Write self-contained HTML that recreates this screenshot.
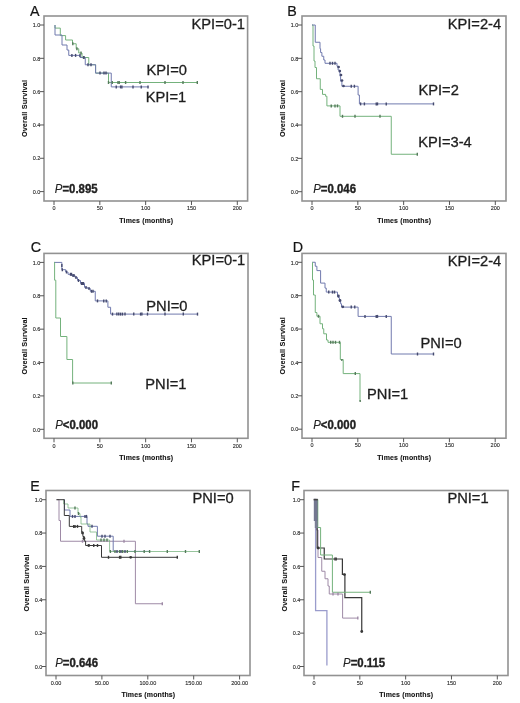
<!DOCTYPE html>
<html><head><meta charset="utf-8"><style>
html,body{margin:0;padding:0;background:#fff;width:520px;height:703px;overflow:hidden}
svg{display:block;filter:blur(0.4px)}
text{font-family:"Liberation Sans", sans-serif}
.tk{font-size:5.5px;fill:#2a2a2a;stroke:#2a2a2a;stroke-width:0.12px}
.at{font-size:7px;font-weight:bold;fill:#111;letter-spacing:0.14px;stroke:#111;stroke-width:0.1px}
.pl{font-size:14.3px;fill:#151515;stroke:#151515;stroke-width:0.2px}
.hd{font-size:14.7px;fill:#1e1e1e;stroke:#1e1e1e;stroke-width:0.3px}
.pv{font-size:11.4px;font-weight:bold;fill:#222;stroke:#222;stroke-width:0.35px}
.pi{font-style:italic;font-weight:normal;stroke-width:0.1px}
</style></head><body>
<svg width="520" height="703" viewBox="0 0 520 703">
<rect width="520" height="703" fill="#fff"/>
<rect x="44" y="16" width="203.6" height="185" fill="none" stroke="#929292" stroke-width="1.6"/>
<line x1="40" y1="191.6" x2="44" y2="191.6" stroke="#555" stroke-width="1"/>
<text transform="translate(40.4,193.8) scale(1,1.12)" class="tk" text-anchor="end">0.0</text>
<line x1="40" y1="158.28" x2="44" y2="158.28" stroke="#555" stroke-width="1"/>
<text transform="translate(40.4,160.48) scale(1,1.12)" class="tk" text-anchor="end">0.2</text>
<line x1="40" y1="124.96" x2="44" y2="124.96" stroke="#555" stroke-width="1"/>
<text transform="translate(40.4,127.16) scale(1,1.12)" class="tk" text-anchor="end">0.4</text>
<line x1="40" y1="91.64" x2="44" y2="91.64" stroke="#555" stroke-width="1"/>
<text transform="translate(40.4,93.84) scale(1,1.12)" class="tk" text-anchor="end">0.6</text>
<line x1="40" y1="58.32" x2="44" y2="58.32" stroke="#555" stroke-width="1"/>
<text transform="translate(40.4,60.52) scale(1,1.12)" class="tk" text-anchor="end">0.8</text>
<line x1="40" y1="25" x2="44" y2="25" stroke="#555" stroke-width="1"/>
<text transform="translate(40.4,27.2) scale(1,1.12)" class="tk" text-anchor="end">1.0</text>
<line x1="54" y1="201" x2="54" y2="205" stroke="#555" stroke-width="1"/>
<text transform="translate(54,210.2) scale(1,1.12)" class="tk" text-anchor="middle">0</text>
<line x1="99.83" y1="201" x2="99.83" y2="205" stroke="#555" stroke-width="1"/>
<text transform="translate(99.83,210.2) scale(1,1.12)" class="tk" text-anchor="middle">50</text>
<line x1="145.65" y1="201" x2="145.65" y2="205" stroke="#555" stroke-width="1"/>
<text transform="translate(145.65,210.2) scale(1,1.12)" class="tk" text-anchor="middle">100</text>
<line x1="191.47" y1="201" x2="191.47" y2="205" stroke="#555" stroke-width="1"/>
<text transform="translate(191.47,210.2) scale(1,1.12)" class="tk" text-anchor="middle">150</text>
<line x1="237.3" y1="201" x2="237.3" y2="205" stroke="#555" stroke-width="1"/>
<text transform="translate(237.3,210.2) scale(1,1.12)" class="tk" text-anchor="middle">200</text>
<text transform="translate(146.25,222.8) scale(1,1.04)" class="at" text-anchor="middle">Times (months)</text>
<text transform="translate(27.1,108.5) scale(1,1.04) rotate(-90)" class="at" text-anchor="middle">Overall Survival</text>
<rect x="302" y="16" width="204" height="185" fill="none" stroke="#929292" stroke-width="1.6"/>
<line x1="298" y1="191.7" x2="302" y2="191.7" stroke="#555" stroke-width="1"/>
<text transform="translate(298.4,193.9) scale(1,1.12)" class="tk" text-anchor="end">0.0</text>
<line x1="298" y1="158.36" x2="302" y2="158.36" stroke="#555" stroke-width="1"/>
<text transform="translate(298.4,160.56) scale(1,1.12)" class="tk" text-anchor="end">0.2</text>
<line x1="298" y1="125.02" x2="302" y2="125.02" stroke="#555" stroke-width="1"/>
<text transform="translate(298.4,127.22) scale(1,1.12)" class="tk" text-anchor="end">0.4</text>
<line x1="298" y1="91.68" x2="302" y2="91.68" stroke="#555" stroke-width="1"/>
<text transform="translate(298.4,93.88) scale(1,1.12)" class="tk" text-anchor="end">0.6</text>
<line x1="298" y1="58.34" x2="302" y2="58.34" stroke="#555" stroke-width="1"/>
<text transform="translate(298.4,60.54) scale(1,1.12)" class="tk" text-anchor="end">0.8</text>
<line x1="298" y1="25" x2="302" y2="25" stroke="#555" stroke-width="1"/>
<text transform="translate(298.4,27.2) scale(1,1.12)" class="tk" text-anchor="end">1.0</text>
<line x1="312" y1="201" x2="312" y2="205" stroke="#555" stroke-width="1"/>
<text transform="translate(312,210.2) scale(1,1.12)" class="tk" text-anchor="middle">0</text>
<line x1="357.82" y1="201" x2="357.82" y2="205" stroke="#555" stroke-width="1"/>
<text transform="translate(357.82,210.2) scale(1,1.12)" class="tk" text-anchor="middle">50</text>
<line x1="403.65" y1="201" x2="403.65" y2="205" stroke="#555" stroke-width="1"/>
<text transform="translate(403.65,210.2) scale(1,1.12)" class="tk" text-anchor="middle">100</text>
<line x1="449.48" y1="201" x2="449.48" y2="205" stroke="#555" stroke-width="1"/>
<text transform="translate(449.48,210.2) scale(1,1.12)" class="tk" text-anchor="middle">150</text>
<line x1="495.3" y1="201" x2="495.3" y2="205" stroke="#555" stroke-width="1"/>
<text transform="translate(495.3,210.2) scale(1,1.12)" class="tk" text-anchor="middle">200</text>
<text transform="translate(404.25,222.8) scale(1,1.04)" class="at" text-anchor="middle">Times (months)</text>
<text transform="translate(285.1,108.5) scale(1,1.04) rotate(-90)" class="at" text-anchor="middle">Overall Survival</text>
<rect x="44" y="253.4" width="204" height="184.9" fill="none" stroke="#929292" stroke-width="1.6"/>
<line x1="40" y1="429.3" x2="44" y2="429.3" stroke="#555" stroke-width="1"/>
<text transform="translate(40.4,431.5) scale(1,1.12)" class="tk" text-anchor="end">0.0</text>
<line x1="40" y1="395.92" x2="44" y2="395.92" stroke="#555" stroke-width="1"/>
<text transform="translate(40.4,398.12) scale(1,1.12)" class="tk" text-anchor="end">0.2</text>
<line x1="40" y1="362.54" x2="44" y2="362.54" stroke="#555" stroke-width="1"/>
<text transform="translate(40.4,364.74) scale(1,1.12)" class="tk" text-anchor="end">0.4</text>
<line x1="40" y1="329.16" x2="44" y2="329.16" stroke="#555" stroke-width="1"/>
<text transform="translate(40.4,331.36) scale(1,1.12)" class="tk" text-anchor="end">0.6</text>
<line x1="40" y1="295.78" x2="44" y2="295.78" stroke="#555" stroke-width="1"/>
<text transform="translate(40.4,297.98) scale(1,1.12)" class="tk" text-anchor="end">0.8</text>
<line x1="40" y1="262.4" x2="44" y2="262.4" stroke="#555" stroke-width="1"/>
<text transform="translate(40.4,264.6) scale(1,1.12)" class="tk" text-anchor="end">1.0</text>
<line x1="54" y1="438.3" x2="54" y2="442.3" stroke="#555" stroke-width="1"/>
<text transform="translate(54,447.5) scale(1,1.12)" class="tk" text-anchor="middle">0</text>
<line x1="99.83" y1="438.3" x2="99.83" y2="442.3" stroke="#555" stroke-width="1"/>
<text transform="translate(99.83,447.5) scale(1,1.12)" class="tk" text-anchor="middle">50</text>
<line x1="145.65" y1="438.3" x2="145.65" y2="442.3" stroke="#555" stroke-width="1"/>
<text transform="translate(145.65,447.5) scale(1,1.12)" class="tk" text-anchor="middle">100</text>
<line x1="191.47" y1="438.3" x2="191.47" y2="442.3" stroke="#555" stroke-width="1"/>
<text transform="translate(191.47,447.5) scale(1,1.12)" class="tk" text-anchor="middle">150</text>
<line x1="237.3" y1="438.3" x2="237.3" y2="442.3" stroke="#555" stroke-width="1"/>
<text transform="translate(237.3,447.5) scale(1,1.12)" class="tk" text-anchor="middle">200</text>
<text transform="translate(146.25,460.1) scale(1,1.04)" class="at" text-anchor="middle">Times (months)</text>
<text transform="translate(27.1,345.85) scale(1,1.04) rotate(-90)" class="at" text-anchor="middle">Overall Survival</text>
<rect x="302" y="253.4" width="204" height="184.8" fill="none" stroke="#929292" stroke-width="1.6"/>
<line x1="298" y1="429.2" x2="302" y2="429.2" stroke="#555" stroke-width="1"/>
<text transform="translate(298.4,431.4) scale(1,1.12)" class="tk" text-anchor="end">0.0</text>
<line x1="298" y1="395.82" x2="302" y2="395.82" stroke="#555" stroke-width="1"/>
<text transform="translate(298.4,398.02) scale(1,1.12)" class="tk" text-anchor="end">0.2</text>
<line x1="298" y1="362.44" x2="302" y2="362.44" stroke="#555" stroke-width="1"/>
<text transform="translate(298.4,364.64) scale(1,1.12)" class="tk" text-anchor="end">0.4</text>
<line x1="298" y1="329.06" x2="302" y2="329.06" stroke="#555" stroke-width="1"/>
<text transform="translate(298.4,331.26) scale(1,1.12)" class="tk" text-anchor="end">0.6</text>
<line x1="298" y1="295.68" x2="302" y2="295.68" stroke="#555" stroke-width="1"/>
<text transform="translate(298.4,297.88) scale(1,1.12)" class="tk" text-anchor="end">0.8</text>
<line x1="298" y1="262.3" x2="302" y2="262.3" stroke="#555" stroke-width="1"/>
<text transform="translate(298.4,264.5) scale(1,1.12)" class="tk" text-anchor="end">1.0</text>
<line x1="312" y1="438.2" x2="312" y2="442.2" stroke="#555" stroke-width="1"/>
<text transform="translate(312,447.4) scale(1,1.12)" class="tk" text-anchor="middle">0</text>
<line x1="357.8" y1="438.2" x2="357.8" y2="442.2" stroke="#555" stroke-width="1"/>
<text transform="translate(357.8,447.4) scale(1,1.12)" class="tk" text-anchor="middle">50</text>
<line x1="403.6" y1="438.2" x2="403.6" y2="442.2" stroke="#555" stroke-width="1"/>
<text transform="translate(403.6,447.4) scale(1,1.12)" class="tk" text-anchor="middle">100</text>
<line x1="449.4" y1="438.2" x2="449.4" y2="442.2" stroke="#555" stroke-width="1"/>
<text transform="translate(449.4,447.4) scale(1,1.12)" class="tk" text-anchor="middle">150</text>
<line x1="495.2" y1="438.2" x2="495.2" y2="442.2" stroke="#555" stroke-width="1"/>
<text transform="translate(495.2,447.4) scale(1,1.12)" class="tk" text-anchor="middle">200</text>
<text transform="translate(404.2,460) scale(1,1.04)" class="at" text-anchor="middle">Times (months)</text>
<text transform="translate(285.1,345.8) scale(1,1.04) rotate(-90)" class="at" text-anchor="middle">Overall Survival</text>
<rect x="46" y="490.5" width="204" height="185" fill="none" stroke="#929292" stroke-width="1.6"/>
<line x1="42" y1="666.5" x2="46" y2="666.5" stroke="#555" stroke-width="1"/>
<text transform="translate(42.4,668.7) scale(1,1.12)" class="tk" text-anchor="end">0.0</text>
<line x1="42" y1="633.14" x2="46" y2="633.14" stroke="#555" stroke-width="1"/>
<text transform="translate(42.4,635.34) scale(1,1.12)" class="tk" text-anchor="end">0.2</text>
<line x1="42" y1="599.78" x2="46" y2="599.78" stroke="#555" stroke-width="1"/>
<text transform="translate(42.4,601.98) scale(1,1.12)" class="tk" text-anchor="end">0.4</text>
<line x1="42" y1="566.42" x2="46" y2="566.42" stroke="#555" stroke-width="1"/>
<text transform="translate(42.4,568.62) scale(1,1.12)" class="tk" text-anchor="end">0.6</text>
<line x1="42" y1="533.06" x2="46" y2="533.06" stroke="#555" stroke-width="1"/>
<text transform="translate(42.4,535.26) scale(1,1.12)" class="tk" text-anchor="end">0.8</text>
<line x1="42" y1="499.7" x2="46" y2="499.7" stroke="#555" stroke-width="1"/>
<text transform="translate(42.4,501.9) scale(1,1.12)" class="tk" text-anchor="end">1.0</text>
<line x1="56" y1="675.5" x2="56" y2="679.5" stroke="#555" stroke-width="1"/>
<text transform="translate(56,684.7) scale(1,1.12)" class="tk" text-anchor="middle">0.00</text>
<line x1="101.9" y1="675.5" x2="101.9" y2="679.5" stroke="#555" stroke-width="1"/>
<text transform="translate(101.9,684.7) scale(1,1.12)" class="tk" text-anchor="middle">50.00</text>
<line x1="147.8" y1="675.5" x2="147.8" y2="679.5" stroke="#555" stroke-width="1"/>
<text transform="translate(147.8,684.7) scale(1,1.12)" class="tk" text-anchor="middle">100.00</text>
<line x1="193.7" y1="675.5" x2="193.7" y2="679.5" stroke="#555" stroke-width="1"/>
<text transform="translate(193.7,684.7) scale(1,1.12)" class="tk" text-anchor="middle">150.00</text>
<line x1="239.6" y1="675.5" x2="239.6" y2="679.5" stroke="#555" stroke-width="1"/>
<text transform="translate(239.6,684.7) scale(1,1.12)" class="tk" text-anchor="middle">200.00</text>
<text transform="translate(148.4,697.3) scale(1,1.04)" class="at" text-anchor="middle">Times (months)</text>
<text transform="translate(29.1,583) scale(1,1.04) rotate(-90)" class="at" text-anchor="middle">Overall Survival</text>
<rect x="304" y="490.5" width="204" height="185" fill="none" stroke="#929292" stroke-width="1.6"/>
<line x1="300" y1="666.5" x2="304" y2="666.5" stroke="#555" stroke-width="1"/>
<text transform="translate(300.4,668.7) scale(1,1.12)" class="tk" text-anchor="end">0.0</text>
<line x1="300" y1="633.14" x2="304" y2="633.14" stroke="#555" stroke-width="1"/>
<text transform="translate(300.4,635.34) scale(1,1.12)" class="tk" text-anchor="end">0.2</text>
<line x1="300" y1="599.78" x2="304" y2="599.78" stroke="#555" stroke-width="1"/>
<text transform="translate(300.4,601.98) scale(1,1.12)" class="tk" text-anchor="end">0.4</text>
<line x1="300" y1="566.42" x2="304" y2="566.42" stroke="#555" stroke-width="1"/>
<text transform="translate(300.4,568.62) scale(1,1.12)" class="tk" text-anchor="end">0.6</text>
<line x1="300" y1="533.06" x2="304" y2="533.06" stroke="#555" stroke-width="1"/>
<text transform="translate(300.4,535.26) scale(1,1.12)" class="tk" text-anchor="end">0.8</text>
<line x1="300" y1="499.7" x2="304" y2="499.7" stroke="#555" stroke-width="1"/>
<text transform="translate(300.4,501.9) scale(1,1.12)" class="tk" text-anchor="end">1.0</text>
<line x1="314" y1="675.5" x2="314" y2="679.5" stroke="#555" stroke-width="1"/>
<text transform="translate(314,684.7) scale(1,1.12)" class="tk" text-anchor="middle">0</text>
<line x1="359.82" y1="675.5" x2="359.82" y2="679.5" stroke="#555" stroke-width="1"/>
<text transform="translate(359.82,684.7) scale(1,1.12)" class="tk" text-anchor="middle">50</text>
<line x1="405.65" y1="675.5" x2="405.65" y2="679.5" stroke="#555" stroke-width="1"/>
<text transform="translate(405.65,684.7) scale(1,1.12)" class="tk" text-anchor="middle">100</text>
<line x1="451.48" y1="675.5" x2="451.48" y2="679.5" stroke="#555" stroke-width="1"/>
<text transform="translate(451.48,684.7) scale(1,1.12)" class="tk" text-anchor="middle">150</text>
<line x1="497.3" y1="675.5" x2="497.3" y2="679.5" stroke="#555" stroke-width="1"/>
<text transform="translate(497.3,684.7) scale(1,1.12)" class="tk" text-anchor="middle">200</text>
<text transform="translate(406.25,697.3) scale(1,1.04)" class="at" text-anchor="middle">Times (months)</text>
<text transform="translate(287.1,583) scale(1,1.04) rotate(-90)" class="at" text-anchor="middle">Overall Survival</text>
<polyline points="55,25 55,28.1 60.3,28.1 60.3,35.6 65.6,35.6 65.6,40 72.5,40 72.5,43.75 76.2,43.75 76.2,48.75 78.75,48.75 78.75,53 82,53 82,57.5 88.75,57.5 88.75,64.75 95.6,64.75 95.6,73.1 108.5,73.1 108.5,82.5 197.7,82.5" fill="none" stroke="#74b27c" stroke-width="1.0"/>
<polyline points="55,25 55,35 62,35 62,45 67,45 67,50 68.75,50 68.75,55.4 80,55.4 80,57.5 85.25,57.5 85.25,64.75 95.6,64.75 95.6,73.1 111.25,73.1 111.25,86.9 148.5,86.9" fill="none" stroke="#717aae" stroke-width="1.0"/>
<line x1="72.8" y1="42.25" x2="72.8" y2="45.25" stroke="#557a5b" stroke-width="1.4"/>
<line x1="76.9" y1="47.25" x2="76.9" y2="50.25" stroke="#557a5b" stroke-width="1.4"/>
<line x1="81" y1="51.5" x2="81" y2="54.5" stroke="#557a5b" stroke-width="1.4"/>
<line x1="83.5" y1="56" x2="83.5" y2="59" stroke="#557a5b" stroke-width="1.4"/>
<line x1="108.5" y1="81" x2="108.5" y2="84" stroke="#557a5b" stroke-width="1.4"/>
<line x1="112.25" y1="81" x2="112.25" y2="84" stroke="#557a5b" stroke-width="1.4"/>
<line x1="118" y1="81" x2="118" y2="84" stroke="#557a5b" stroke-width="1.4"/>
<line x1="119.2" y1="81" x2="119.2" y2="84" stroke="#557a5b" stroke-width="1.4"/>
<line x1="125.6" y1="81" x2="125.6" y2="84" stroke="#557a5b" stroke-width="1.4"/>
<line x1="140" y1="81" x2="140" y2="84" stroke="#557a5b" stroke-width="1.4"/>
<line x1="165" y1="81" x2="165" y2="84" stroke="#557a5b" stroke-width="1.4"/>
<line x1="183" y1="81" x2="183" y2="84" stroke="#557a5b" stroke-width="1.4"/>
<line x1="197.3" y1="81" x2="197.3" y2="84" stroke="#557a5b" stroke-width="1.4"/>
<line x1="71.9" y1="53.9" x2="71.9" y2="56.9" stroke="#454a6e" stroke-width="1.4"/>
<line x1="75.6" y1="53.9" x2="75.6" y2="56.9" stroke="#454a6e" stroke-width="1.4"/>
<line x1="80" y1="53.9" x2="80" y2="56.9" stroke="#454a6e" stroke-width="1.4"/>
<line x1="84" y1="56" x2="84" y2="59" stroke="#454a6e" stroke-width="1.4"/>
<line x1="88" y1="63.25" x2="88" y2="66.25" stroke="#454a6e" stroke-width="1.4"/>
<line x1="91" y1="63.25" x2="91" y2="66.25" stroke="#454a6e" stroke-width="1.4"/>
<line x1="100" y1="71.6" x2="100" y2="74.6" stroke="#454a6e" stroke-width="1.4"/>
<line x1="104" y1="71.6" x2="104" y2="74.6" stroke="#454a6e" stroke-width="1.4"/>
<line x1="106" y1="71.6" x2="106" y2="74.6" stroke="#454a6e" stroke-width="1.4"/>
<line x1="116.25" y1="85.4" x2="116.25" y2="88.4" stroke="#454a6e" stroke-width="1.4"/>
<line x1="120.6" y1="85.4" x2="120.6" y2="88.4" stroke="#454a6e" stroke-width="1.4"/>
<line x1="121.9" y1="85.4" x2="121.9" y2="88.4" stroke="#454a6e" stroke-width="1.4"/>
<line x1="133" y1="85.4" x2="133" y2="88.4" stroke="#454a6e" stroke-width="1.4"/>
<line x1="141.25" y1="85.4" x2="141.25" y2="88.4" stroke="#454a6e" stroke-width="1.4"/>
<line x1="148" y1="85.4" x2="148" y2="88.4" stroke="#454a6e" stroke-width="1.4"/>
<polyline points="312,25 313,25 313,46 314,46 314,61 315,61 315,67.5 316.5,67.5 316.5,78.75 320.25,78.75 320.25,89.4 322.5,89.4 322.5,94.4 325.6,94.4 325.6,96.25 326.9,96.25 326.9,105.9 340,105.9 340,116.3 391.25,116.3 391.25,154.25 417.5,154.25" fill="none" stroke="#74b27c" stroke-width="1.0"/>
<polyline points="312,25 315.25,25 315.25,42.25 320,42.25 320,48.75 320.6,48.75 320.6,52.5 321.9,52.5 321.9,56.25 323.75,56.25 323.75,60 325,60 325,63.3 337,63.3 337,66.25 338.1,66.25 338.1,70 339.4,70 339.4,72.5 340,72.5 340,76.25 340.6,76.25 340.6,81.25 341.9,81.25 341.9,86.25 358.1,86.25 358.1,95 359.4,95 359.4,103.9 433.75,103.9" fill="none" stroke="#717aae" stroke-width="1.0"/>
<line x1="331.25" y1="104.4" x2="331.25" y2="107.4" stroke="#557a5b" stroke-width="1.4"/>
<line x1="335" y1="104.4" x2="335" y2="107.4" stroke="#557a5b" stroke-width="1.4"/>
<line x1="337.5" y1="104.4" x2="337.5" y2="107.4" stroke="#557a5b" stroke-width="1.4"/>
<line x1="342.5" y1="114.8" x2="342.5" y2="117.8" stroke="#557a5b" stroke-width="1.4"/>
<line x1="355" y1="114.8" x2="355" y2="117.8" stroke="#557a5b" stroke-width="1.4"/>
<line x1="380" y1="114.8" x2="380" y2="117.8" stroke="#557a5b" stroke-width="1.4"/>
<line x1="417.3" y1="152.75" x2="417.3" y2="155.75" stroke="#557a5b" stroke-width="1.4"/>
<line x1="330" y1="61.8" x2="330" y2="64.8" stroke="#454a6e" stroke-width="1.4"/>
<line x1="332.5" y1="61.8" x2="332.5" y2="64.8" stroke="#454a6e" stroke-width="1.4"/>
<line x1="335" y1="61.8" x2="335" y2="64.8" stroke="#454a6e" stroke-width="1.4"/>
<line x1="351.25" y1="84.75" x2="351.25" y2="87.75" stroke="#454a6e" stroke-width="1.4"/>
<line x1="354.4" y1="84.75" x2="354.4" y2="87.75" stroke="#454a6e" stroke-width="1.4"/>
<line x1="360.6" y1="102.4" x2="360.6" y2="105.4" stroke="#454a6e" stroke-width="1.4"/>
<line x1="364.4" y1="102.4" x2="364.4" y2="105.4" stroke="#454a6e" stroke-width="1.4"/>
<line x1="376.25" y1="102.4" x2="376.25" y2="105.4" stroke="#454a6e" stroke-width="1.4"/>
<line x1="377.5" y1="102.4" x2="377.5" y2="105.4" stroke="#454a6e" stroke-width="1.4"/>
<line x1="386.25" y1="102.4" x2="386.25" y2="105.4" stroke="#454a6e" stroke-width="1.4"/>
<line x1="433.5" y1="102.4" x2="433.5" y2="105.4" stroke="#454a6e" stroke-width="1.4"/>
<circle cx="338.6" cy="67" r="1.35" fill="#454a6e"/>
<circle cx="339.8" cy="71" r="1.35" fill="#454a6e"/>
<circle cx="341" cy="75" r="1.35" fill="#454a6e"/>
<circle cx="342" cy="80.5" r="1.35" fill="#454a6e"/>
<circle cx="343.5" cy="86" r="1.35" fill="#454a6e"/>
<polyline points="54,262.4 61.85,262.4 61.85,269.7 65.7,269.7 65.7,272 68,272 68,274.3 72,274.3 72,275.5 75,275.5 75,277.4 77.5,277.4 77.5,280.5 80.5,280.5 80.5,283.5 84.5,283.5 84.5,287.4 87.5,287.4 87.5,288.5 90.3,288.5 90.3,291.3 95.25,291.3 95.25,300.9 107.9,300.9 107.9,307.25 110.6,307.25 110.6,314.1 198,314.1" fill="none" stroke="#717aae" stroke-width="1.0"/>
<polyline points="54,262.4 54.6,262.4 54.6,280.2 55.8,280.2 55.8,318 60.5,318 60.5,336.5 66.9,336.5 66.9,359.5 72.6,359.5 72.6,383 111.5,383" fill="none" stroke="#74b27c" stroke-width="1.0"/>
<line x1="61.85" y1="264" x2="61.85" y2="267" stroke="#454a6e" stroke-width="1.4"/>
<line x1="62.3" y1="268.2" x2="62.3" y2="271.2" stroke="#454a6e" stroke-width="1.4"/>
<line x1="66.5" y1="270.5" x2="66.5" y2="273.5" stroke="#454a6e" stroke-width="1.4"/>
<line x1="70.5" y1="272.8" x2="70.5" y2="275.8" stroke="#454a6e" stroke-width="1.4"/>
<line x1="71.5" y1="272.8" x2="71.5" y2="275.8" stroke="#454a6e" stroke-width="1.4"/>
<line x1="73" y1="274" x2="73" y2="277" stroke="#454a6e" stroke-width="1.4"/>
<line x1="74" y1="274" x2="74" y2="277" stroke="#454a6e" stroke-width="1.4"/>
<line x1="76" y1="275.9" x2="76" y2="278.9" stroke="#454a6e" stroke-width="1.4"/>
<line x1="78.5" y1="279" x2="78.5" y2="282" stroke="#454a6e" stroke-width="1.4"/>
<line x1="81.5" y1="282" x2="81.5" y2="285" stroke="#454a6e" stroke-width="1.4"/>
<line x1="82.5" y1="282" x2="82.5" y2="285" stroke="#454a6e" stroke-width="1.4"/>
<line x1="83.5" y1="282" x2="83.5" y2="285" stroke="#454a6e" stroke-width="1.4"/>
<line x1="86" y1="285.9" x2="86" y2="288.9" stroke="#454a6e" stroke-width="1.4"/>
<line x1="89" y1="287" x2="89" y2="290" stroke="#454a6e" stroke-width="1.4"/>
<line x1="91.5" y1="289.8" x2="91.5" y2="292.8" stroke="#454a6e" stroke-width="1.4"/>
<line x1="93" y1="289.8" x2="93" y2="292.8" stroke="#454a6e" stroke-width="1.4"/>
<line x1="97.5" y1="299.4" x2="97.5" y2="302.4" stroke="#454a6e" stroke-width="1.4"/>
<line x1="103.75" y1="299.4" x2="103.75" y2="302.4" stroke="#454a6e" stroke-width="1.4"/>
<line x1="106.25" y1="299.4" x2="106.25" y2="302.4" stroke="#454a6e" stroke-width="1.4"/>
<line x1="112.5" y1="312.6" x2="112.5" y2="315.6" stroke="#454a6e" stroke-width="1.4"/>
<line x1="116.9" y1="312.6" x2="116.9" y2="315.6" stroke="#454a6e" stroke-width="1.4"/>
<line x1="118.75" y1="312.6" x2="118.75" y2="315.6" stroke="#454a6e" stroke-width="1.4"/>
<line x1="120.6" y1="312.6" x2="120.6" y2="315.6" stroke="#454a6e" stroke-width="1.4"/>
<line x1="122.5" y1="312.6" x2="122.5" y2="315.6" stroke="#454a6e" stroke-width="1.4"/>
<line x1="125" y1="312.6" x2="125" y2="315.6" stroke="#454a6e" stroke-width="1.4"/>
<line x1="133.75" y1="312.6" x2="133.75" y2="315.6" stroke="#454a6e" stroke-width="1.4"/>
<line x1="140.6" y1="312.6" x2="140.6" y2="315.6" stroke="#454a6e" stroke-width="1.4"/>
<line x1="141.9" y1="312.6" x2="141.9" y2="315.6" stroke="#454a6e" stroke-width="1.4"/>
<line x1="147.5" y1="312.6" x2="147.5" y2="315.6" stroke="#454a6e" stroke-width="1.4"/>
<line x1="165" y1="312.6" x2="165" y2="315.6" stroke="#454a6e" stroke-width="1.4"/>
<line x1="183.3" y1="312.6" x2="183.3" y2="315.6" stroke="#454a6e" stroke-width="1.4"/>
<line x1="197.5" y1="312.6" x2="197.5" y2="315.6" stroke="#454a6e" stroke-width="1.4"/>
<line x1="72.8" y1="381.5" x2="72.8" y2="384.5" stroke="#557a5b" stroke-width="1.4"/>
<line x1="111.3" y1="381.5" x2="111.3" y2="384.5" stroke="#557a5b" stroke-width="1.4"/>
<polyline points="312.25,262.25 315.25,262.25 315.25,266.25 316.9,266.25 316.9,270.6 320.6,270.6 320.6,283.1 325,283.1 325,288.1 326.25,288.1 326.25,292.1 337.5,292.1 337.5,295 338.1,295 338.1,297.5 339.4,297.5 339.4,301.25 340.6,301.25 340.6,303.75 341.5,303.75 341.5,307.1 358.1,307.1 358.1,316.4 391.25,316.4 391.25,354 433.6,354" fill="none" stroke="#717aae" stroke-width="1.0"/>
<polyline points="312.25,262.25 312.5,262.25 312.5,280 313.5,280 313.5,295 315.25,295 315.25,312.5 316.9,312.5 316.9,316.25 320,316.25 320,323.75 322.5,323.75 322.5,328.75 323.75,328.75 323.75,333.8 326.5,333.8 326.5,340 328,340 328,342.3 340.3,342.3 340.3,359.5 343.2,359.5 343.2,373.6 360,373.6 360,401.3" fill="none" stroke="#74b27c" stroke-width="1.0"/>
<line x1="328.75" y1="290.6" x2="328.75" y2="293.6" stroke="#454a6e" stroke-width="1.4"/>
<line x1="332.5" y1="290.6" x2="332.5" y2="293.6" stroke="#454a6e" stroke-width="1.4"/>
<line x1="334.5" y1="290.6" x2="334.5" y2="293.6" stroke="#454a6e" stroke-width="1.4"/>
<line x1="351.25" y1="305.6" x2="351.25" y2="308.6" stroke="#454a6e" stroke-width="1.4"/>
<line x1="354.75" y1="305.6" x2="354.75" y2="308.6" stroke="#454a6e" stroke-width="1.4"/>
<line x1="365" y1="314.9" x2="365" y2="317.9" stroke="#454a6e" stroke-width="1.4"/>
<line x1="376.25" y1="314.9" x2="376.25" y2="317.9" stroke="#454a6e" stroke-width="1.4"/>
<line x1="377.5" y1="314.9" x2="377.5" y2="317.9" stroke="#454a6e" stroke-width="1.4"/>
<line x1="386.25" y1="314.9" x2="386.25" y2="317.9" stroke="#454a6e" stroke-width="1.4"/>
<line x1="417.5" y1="352.5" x2="417.5" y2="355.5" stroke="#454a6e" stroke-width="1.4"/>
<line x1="433.5" y1="352.5" x2="433.5" y2="355.5" stroke="#454a6e" stroke-width="1.4"/>
<circle cx="338.4" cy="296" r="1.4" fill="#454a6e"/>
<circle cx="340" cy="300.5" r="1.4" fill="#454a6e"/>
<circle cx="342.8" cy="306.8" r="1.4" fill="#454a6e"/>
<line x1="318.5" y1="314.75" x2="318.5" y2="317.75" stroke="#557a5b" stroke-width="1.4"/>
<line x1="330.7" y1="340.8" x2="330.7" y2="343.8" stroke="#557a5b" stroke-width="1.4"/>
<line x1="333" y1="340.8" x2="333" y2="343.8" stroke="#557a5b" stroke-width="1.4"/>
<line x1="335.5" y1="340.8" x2="335.5" y2="343.8" stroke="#557a5b" stroke-width="1.4"/>
<line x1="339.5" y1="340.8" x2="339.5" y2="343.8" stroke="#557a5b" stroke-width="1.4"/>
<line x1="355.3" y1="372.1" x2="355.3" y2="375.1" stroke="#557a5b" stroke-width="1.4"/>
<circle cx="341.8" cy="360" r="0.9" fill="#557a5b"/>
<circle cx="360.2" cy="401" r="0.9" fill="#557a5b"/>
<polyline points="56.5,499.7 59,499.7 59,520.5 60.5,520.5 60.5,541.25 135.4,541.25 135.4,603.75 162.5,603.75" fill="none" stroke="#9e8aa6" stroke-width="1.0"/>
<polyline points="63.75,499.7 64.5,499.7 64.5,510 70,510 70,516.4 87,516.4 87,524 88,524 88,526.3 97.4,526.3 97.4,536.2 113.2,536.2 113.2,551.4 150,551.4" fill="none" stroke="#717aae" stroke-width="1.0"/>
<polyline points="63.75,499.7 63.75,504 68,504 68,508 78,508 78,513.5 80,513.5 80,517 81,517 81,524 90,524 90,532 96.5,532 96.5,540 109.6,540 109.6,551.5 199.5,551.5" fill="none" stroke="#74b27c" stroke-width="1.0" stroke-opacity="0.75"/>
<polyline points="56.5,499.7 64.3,499.7 64.3,515.5 69.3,515.5 69.3,526.4 81.7,526.4 81.7,532 82.9,532 82.9,536.5 84.3,536.5 84.3,541 85.6,541 85.6,545.5 101.5,545.5 101.5,557.3 177.5,557.3" fill="none" stroke="#383838" stroke-width="1.0"/>
<line x1="82.5" y1="539.75" x2="82.5" y2="542.75" stroke="#9e8aa6" stroke-width="1.4"/>
<line x1="124" y1="539.75" x2="124" y2="542.75" stroke="#9e8aa6" stroke-width="1.4"/>
<line x1="162.3" y1="602.25" x2="162.3" y2="605.25" stroke="#9e8aa6" stroke-width="1.4"/>
<line x1="75" y1="506.5" x2="75" y2="509.5" stroke="#557a5b" stroke-width="1.4"/>
<line x1="78.5" y1="512" x2="78.5" y2="515" stroke="#557a5b" stroke-width="1.4"/>
<line x1="101" y1="538.5" x2="101" y2="541.5" stroke="#557a5b" stroke-width="1.4"/>
<line x1="104" y1="538.5" x2="104" y2="541.5" stroke="#557a5b" stroke-width="1.4"/>
<line x1="107" y1="538.5" x2="107" y2="541.5" stroke="#557a5b" stroke-width="1.4"/>
<line x1="110.4" y1="550" x2="110.4" y2="553" stroke="#557a5b" stroke-width="1.4"/>
<line x1="115" y1="550" x2="115" y2="553" stroke="#557a5b" stroke-width="1.4"/>
<line x1="119.6" y1="550" x2="119.6" y2="553" stroke="#557a5b" stroke-width="1.4"/>
<line x1="122.7" y1="550" x2="122.7" y2="553" stroke="#557a5b" stroke-width="1.4"/>
<line x1="127.3" y1="550" x2="127.3" y2="553" stroke="#557a5b" stroke-width="1.4"/>
<line x1="135" y1="550" x2="135" y2="553" stroke="#557a5b" stroke-width="1.4"/>
<line x1="144.2" y1="550" x2="144.2" y2="553" stroke="#557a5b" stroke-width="1.4"/>
<line x1="149.6" y1="550" x2="149.6" y2="553" stroke="#557a5b" stroke-width="1.4"/>
<line x1="167.3" y1="550" x2="167.3" y2="553" stroke="#557a5b" stroke-width="1.4"/>
<line x1="185.5" y1="550" x2="185.5" y2="553" stroke="#557a5b" stroke-width="1.4"/>
<line x1="199.3" y1="550" x2="199.3" y2="553" stroke="#557a5b" stroke-width="1.4"/>
<line x1="72.5" y1="514.9" x2="72.5" y2="517.9" stroke="#454a6e" stroke-width="1.4"/>
<line x1="75" y1="514.9" x2="75" y2="517.9" stroke="#454a6e" stroke-width="1.4"/>
<line x1="85" y1="514.9" x2="85" y2="517.9" stroke="#454a6e" stroke-width="1.4"/>
<line x1="86.5" y1="514.9" x2="86.5" y2="517.9" stroke="#454a6e" stroke-width="1.4"/>
<line x1="92" y1="524.8" x2="92" y2="527.8" stroke="#454a6e" stroke-width="1.4"/>
<line x1="102" y1="534.7" x2="102" y2="537.7" stroke="#454a6e" stroke-width="1.4"/>
<line x1="105" y1="534.7" x2="105" y2="537.7" stroke="#454a6e" stroke-width="1.4"/>
<line x1="110" y1="534.7" x2="110" y2="537.7" stroke="#454a6e" stroke-width="1.4"/>
<line x1="117" y1="549.9" x2="117" y2="552.9" stroke="#454a6e" stroke-width="1.4"/>
<line x1="121" y1="549.9" x2="121" y2="552.9" stroke="#454a6e" stroke-width="1.4"/>
<line x1="125" y1="549.9" x2="125" y2="552.9" stroke="#454a6e" stroke-width="1.4"/>
<line x1="73.75" y1="524.9" x2="73.75" y2="527.9" stroke="#383838" stroke-width="1.4"/>
<line x1="75" y1="524.9" x2="75" y2="527.9" stroke="#383838" stroke-width="1.4"/>
<line x1="77.5" y1="524.9" x2="77.5" y2="527.9" stroke="#383838" stroke-width="1.4"/>
<line x1="93.75" y1="544" x2="93.75" y2="547" stroke="#383838" stroke-width="1.4"/>
<line x1="97.5" y1="544" x2="97.5" y2="547" stroke="#383838" stroke-width="1.4"/>
<line x1="108.5" y1="555.8" x2="108.5" y2="558.8" stroke="#383838" stroke-width="1.4"/>
<line x1="119.6" y1="555.8" x2="119.6" y2="558.8" stroke="#383838" stroke-width="1.4"/>
<line x1="120.8" y1="555.8" x2="120.8" y2="558.8" stroke="#383838" stroke-width="1.4"/>
<line x1="177.3" y1="555.8" x2="177.3" y2="558.8" stroke="#383838" stroke-width="1.4"/>
<circle cx="82.5" cy="533" r="1.4" fill="#383838"/>
<circle cx="84" cy="538.5" r="1.4" fill="#383838"/>
<circle cx="88.75" cy="545.5" r="1.4" fill="#383838"/>
<circle cx="130.7" cy="557.3" r="1.4" fill="#383838"/>
<polyline points="314,499.5 315.6,499.5 315.6,610.6 326.9,610.6 326.9,665.6" fill="none" stroke="#9a9ccc" stroke-width="1.3"/>
<polyline points="314,499.5 316.3,499.5 316.3,530 318,530 318,557.5 321.75,557.5 321.75,571.25 325,571.25 325,578.75 328,578.75 328,586 329.25,586 329.25,594 342.6,594 342.6,618.1 358,618.1" fill="none" stroke="#9e8aa6" stroke-width="1.0"/>
<polyline points="314,499.5 317.2,499.5 317.2,548 324.25,548 324.25,559 342.4,559 342.4,574.4 344.9,574.4 344.9,597.7 361.75,597.7 361.75,632" fill="none" stroke="#383838" stroke-width="1.2"/>
<polyline points="314,499.5 317.8,499.5 317.8,527.5 320.6,527.5 320.6,555 332.4,555 332.4,592.25 370.5,592.25" fill="none" stroke="#74b27c" stroke-width="1.0"/>
<rect x="313.8" y="499" width="3.8" height="22" fill="#737790"/>
<rect x="314.8" y="521" width="2.8" height="7" fill="#7b7f96"/>
<rect x="313.6" y="498.8" width="4.2" height="1.6" fill="#444"/>
<line x1="333" y1="592.5" x2="333" y2="595.5" stroke="#9e8aa6" stroke-width="1.4"/>
<line x1="338" y1="592.5" x2="338" y2="595.5" stroke="#9e8aa6" stroke-width="1.4"/>
<line x1="357.8" y1="616.6" x2="357.8" y2="619.6" stroke="#9e8aa6" stroke-width="1.4"/>
<line x1="335" y1="557.5" x2="335" y2="560.5" stroke="#383838" stroke-width="1.4"/>
<line x1="336.2" y1="557.5" x2="336.2" y2="560.5" stroke="#383838" stroke-width="1.4"/>
<circle cx="318.2" cy="548" r="1.4" fill="#383838"/>
<circle cx="344.4" cy="574.6" r="1.4" fill="#383838"/>
<circle cx="361.75" cy="631.5" r="1.4" fill="#383838"/>
<line x1="370.3" y1="590.75" x2="370.3" y2="593.75" stroke="#557a5b" stroke-width="1.4"/>
<text transform="translate(30.1,15.8) scale(1,1.04)" class="pl" text-anchor="start">A</text>
<text transform="translate(287.2,15.75) scale(1,1.04)" class="pl" text-anchor="start">B</text>
<text transform="translate(30.75,252.25) scale(1,1.04)" class="pl" text-anchor="start">C</text>
<text transform="translate(292.75,252.25) scale(1,1.04)" class="pl" text-anchor="start">D</text>
<text transform="translate(30.3,490.5) scale(1,1.04)" class="pl" text-anchor="start">E</text>
<text transform="translate(291.2,490.5) scale(1,1.04)" class="pl" text-anchor="start">F</text>
<text transform="translate(244.95,29.12) scale(1,1.04)" class="hd" text-anchor="end">KPI=0-1</text>
<text transform="translate(501.13,29.12) scale(1,1.04)" class="hd" text-anchor="end">KPI=2-4</text>
<text transform="translate(245.2,265.45) scale(1,1.04)" class="hd" text-anchor="end">KPI=0-1</text>
<text transform="translate(501.23,265.75) scale(1,1.04)" class="hd" text-anchor="end">KPI=2-4</text>
<text transform="translate(233.7,502.95) scale(1,1.04)" class="hd" text-anchor="end">PNI=0</text>
<text transform="translate(488.63,502.95) scale(1,1.04)" class="hd" text-anchor="end">PNI=1</text>
<text transform="translate(146.5,74.75) scale(1,1.04)" class="hd" text-anchor="start">KPI=0</text>
<text transform="translate(145.75,101.5) scale(1,1.04)" class="hd" text-anchor="start">KPI=1</text>
<text transform="translate(418.43,94.6) scale(1,1.04)" class="hd" text-anchor="start">KPI=2</text>
<text transform="translate(418.22,147.3) scale(1,1.04)" class="hd" text-anchor="start">KPI=3-4</text>
<text transform="translate(146.3,311.2) scale(1,1.04)" class="hd" text-anchor="start">PNI=0</text>
<text transform="translate(145.3,389.25) scale(1,1.04)" class="hd" text-anchor="start">PNI=1</text>
<text transform="translate(420.45,348) scale(1,1.04)" class="hd" text-anchor="start">PNI=0</text>
<text transform="translate(367,399) scale(1,1.04)" class="hd" text-anchor="start">PNI=1</text>
<text transform="translate(54.85,192.5) scale(1,1.04)" class="pv"><tspan class="pi">P</tspan>=0.895</text>
<text transform="translate(313.25,192.5) scale(1,1.04)" class="pv"><tspan class="pi">P</tspan>=0.046</text>
<text transform="translate(55.25,428.65) scale(1,1.04)" class="pv"><tspan class="pi">P</tspan>&lt;0.000</text>
<text transform="translate(313.25,428.65) scale(1,1.04)" class="pv"><tspan class="pi">P</tspan>&lt;0.000</text>
<text transform="translate(55.25,666.55) scale(1,1.04)" class="pv"><tspan class="pi">P</tspan>=0.646</text>
<text transform="translate(343.05,666.55) scale(1,1.04)" class="pv"><tspan class="pi">P</tspan>=0.115</text>
</svg>
</body></html>
